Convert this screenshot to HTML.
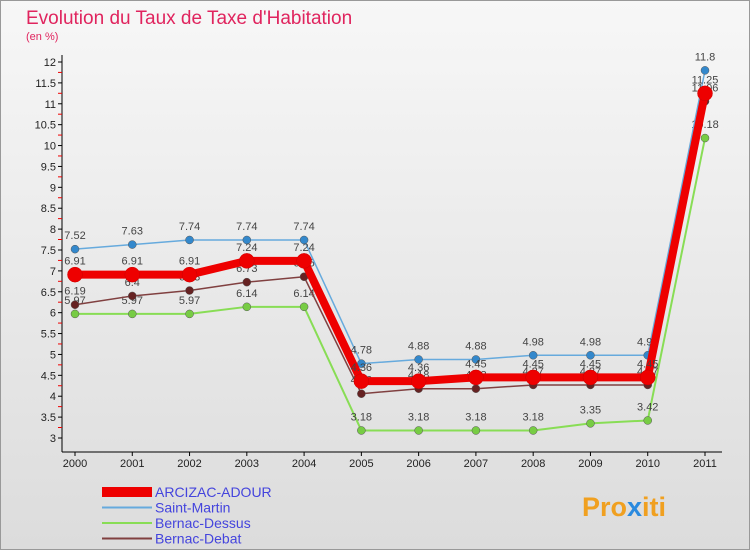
<!DOCTYPE html>
<html><head><meta charset="utf-8"><style>
body{margin:0;}
svg{display:block;font-family:"Liberation Sans",sans-serif;}
</style></head><body>
<svg width="750" height="550" xmlns="http://www.w3.org/2000/svg">
<defs><linearGradient id="bg" x1="0" y1="0" x2="0" y2="1"><stop offset="0" stop-color="#f7f7f7"/><stop offset="1" stop-color="#dcdcdc"/></linearGradient></defs>
<rect x="0.5" y="0.5" width="749" height="549" fill="url(#bg)" stroke="#999"/>
<text x="26" y="24" font-size="19" fill="#e0245e">Evolution du Taux de Taxe d'Habitation</text>
<text x="26" y="40" font-size="11" fill="#e0245e">(en %)</text>
<g id="axes"></g>
<g id="series"></g>
<g id="legend"></g>
<text x="582" y="516" font-size="27" font-weight="bold" fill="#f0a020">Pro<tspan fill="#2a8adf">x</tspan>iti</text>
</svg>
<script>
const years=["2000","2001","2002","2003","2004","2005","2006","2007","2008","2009","2010","2011"];
const yTicks=[3,3.5,4,4.5,5,5.5,6,6.5,7,7.5,8,8.5,9,9.5,10,10.5,11,11.5,12];
const seriesNames=["ARCIZAC-ADOUR","Saint-Martin","Bernac-Dessus","Bernac-Debat"];
const arcizac=[6.91,6.91,6.91,7.24,7.24,4.36,4.36,4.45,4.45,4.45,4.45,11.25];
const saintMartin=[7.52,7.63,7.74,7.74,7.74,4.78,4.88,4.88,4.98,4.98,4.98,11.8];
const bernacDessus=[5.97,5.97,5.97,6.14,6.14,3.18,3.18,3.18,3.18,3.35,3.42,10.18];
const bernacDebat=[6.19,6.4,6.53,6.73,6.86,4.06,4.18,4.18,4.27,4.27,4.27,11.06];
const NS="http://www.w3.org/2000/svg";
const X0=75,X1=705,Y0=438,Y1=62,VMIN=3,VMAX=12;
const xs=i=>X0+(X1-X0)*i/(years.length-1);
const ys=v=>Y0-(Y0-Y1)*(v-VMIN)/(VMAX-VMIN);
function mk(t,a,p){const e=document.createElementNS(NS,t);for(const k in a)e.setAttribute(k,a[k]);p.appendChild(e);return e;}
const ax=document.getElementById('axes');
let l=mk('line',{x1:62,y1:55,x2:62,y2:452,stroke:'#000'},ax);


l=mk('line',{x1:62,y1:452,x2:722,y2:452,stroke:'#000'},ax);


yTicks.forEach((v,k)=>{
 const y=ys(v);
 mk('line',{x1:58,y1:y,x2:62,y2:y,stroke:'#000'},ax);
 const t=mk('text',{x:56,y:y+4,'font-size':11,'text-anchor':'end',fill:'#222'},ax);
 t.textContent=String(v);
 
 
 if(k>0) mk('line',{x1:58,y1:y+10.4,x2:62,y2:y+10.4,stroke:'#e00'},ax);
});
years.forEach((yr,i)=>{
 const x=xs(i);
 mk('line',{x1:x,y1:452,x2:x,y2:456,stroke:'#000'},ax);
 const t=mk('text',{x:x,y:467,'font-size':11,'text-anchor':'middle',fill:'#222'},ax);
 t.textContent=yr;
 
 
});
const sg=document.getElementById('series');
const defs=[
 {d:bernacDessus,c:'#88dd55',f:'#77cc44',w:2,r:4,n:'bernac-dessus'},
 {d:bernacDebat,c:'#804040',f:'#662222',w:1.5,r:4,n:'bernac-debat'},
 {d:saintMartin,c:'#66aadd',f:'#3388cc',w:1.5,r:4,n:'saint-martin'},
 {d:arcizac,c:'#ee0000',f:'#ee0000',w:8,r:7.5,n:'arcizac-adour'}];
defs.forEach(s=>{
 const g=mk('g',{},sg);
 
 
 const p=mk('polyline',{points:s.d.map((v,i)=>xs(i)+','+ys(v)).join(' '),fill:'none',stroke:s.c,'stroke-width':s.w,'stroke-linejoin':'round'},g);
 
 
 s.d.forEach((v,i)=>{
  const c=mk('circle',{cx:xs(i),cy:ys(v),r:s.r,fill:s.f,stroke:s.n==='arcizac-adour'?'#c00':'#555','stroke-width':0.5},g);
  
  
  const t=mk('text',{x:xs(i),y:ys(v)-10,'font-size':11,'text-anchor':'middle',fill:'#444'},g);
  t.textContent=String(v);
  
  
 });
});
const lg=document.getElementById('legend');
const lc=[['#ee0000',10],['#66aadd',2],['#88dd55',2],['#804040',2]];
seriesNames.forEach((n,i)=>{
 const y=492+i*15.5;
 const g=mk('g',{},lg);
 
 
 mk('line',{x1:102,y1:y,x2:152,y2:y,stroke:lc[i][0],'stroke-width':lc[i][1]},g);
 const t=mk('text',{x:155,y:y+5,'font-size':14,fill:'#4444dd'},g);
 t.textContent=n;
});
</script>
</body></html>
